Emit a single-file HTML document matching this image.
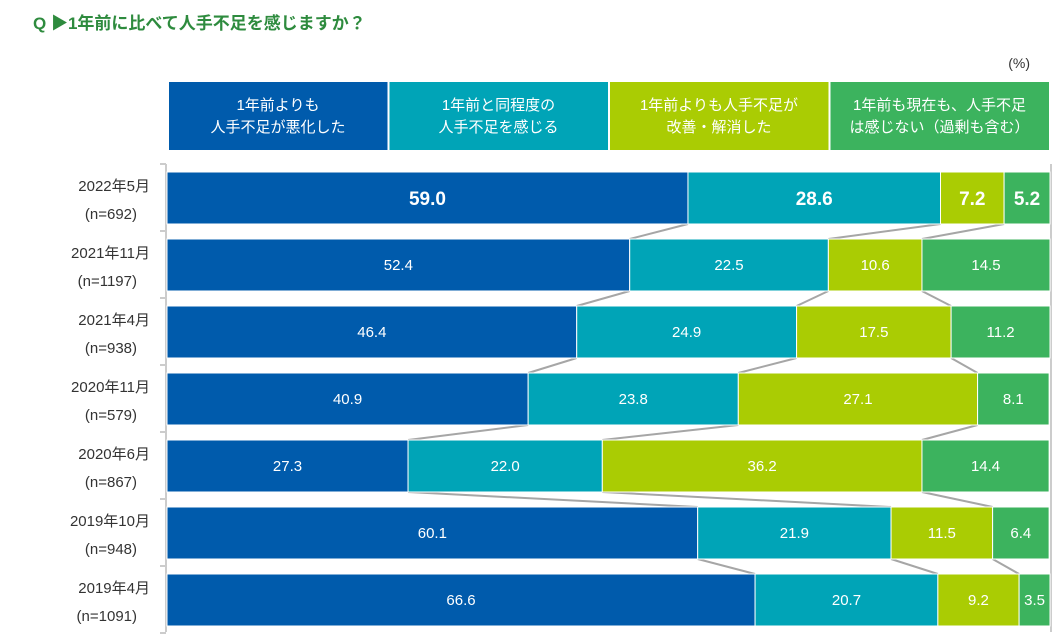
<!DOCTYPE html>
<html><head><meta charset="utf-8">
<style>
body{margin:0;width:1056px;height:635px;background:#fff;overflow:hidden;font-family:"Liberation Sans","Noto Sans CJK JP",sans-serif;}
svg{display:block}
</style></head><body>
<svg id="chart" width="1056" height="635">
<text x="33" y="29" font-size="17" font-weight="bold" fill="#2E8B3E" font-family="Liberation Sans, Noto Sans CJK JP, sans-serif">Q ▶1年前に比べて人手不足を感じますか？</text>
<text x="1030" y="68" font-size="14" fill="#333" text-anchor="end">(%)</text>
<g id="legend"></g>
<g id="axis"></g>
<g id="connectors"></g>
<g id="bars"></g>
</svg>
<script>
const categories=["2022年5月","2021年11月","2021年4月","2020年11月","2020年6月","2019年10月","2019年4月"];
const sampleSizes=["(n=692)","(n=1197)","(n=938)","(n=579)","(n=867)","(n=948)","(n=1091)"];
const worsened=[59.0,52.4,46.4,40.9,27.3,60.1,66.6];
const same=[28.6,22.5,24.9,23.8,22.0,21.9,20.7];
const improved=[7.2,10.6,17.5,27.1,36.2,11.5,9.2];
const none=[5.2,14.5,11.2,8.1,14.4,6.4,3.5];
const seriesLabels=[["1年前よりも","人手不足が悪化した"],["1年前と同程度の","人手不足を感じる"],["1年前よりも人手不足が","改善・解消した"],["1年前も現在も、人手不足","は感じない（過剰も含む）"]];
const series=[worsened,same,improved,none];
const colors=["#005BAC","#00A4B7","#AACC03","#3CB35E"];
const NS="http://www.w3.org/2000/svg";
const x0=167,plotW=883,rowTop=172,pitch=67,barH=52;
const xs=v=>x0+v/100*plotW;
const ys=i=>rowTop+i*pitch;
function mk(tag,attrs,parent){const e=document.createElementNS(NS,tag);for(const k in attrs)e.setAttribute(k,attrs[k]);parent.appendChild(e);return e;}
const lg=document.getElementById('legend');
seriesLabels.forEach((lab,j)=>{
 const bx=169+j*220.5;
 const r=mk('rect',{x:bx,y:82,width:218.5,height:68,fill:colors[j]},lg);
 
 
 lab.forEach((t,k)=>{const tx=mk('text',{x:bx+109,y:110+k*22,'font-size':15,fill:'#fff','text-anchor':'middle'},lg);tx.textContent=t;
 
 });
});
const ax=document.getElementById('axis');
mk('line',{x1:166,y1:164,x2:166,y2:632,stroke:'#ccc','stroke-width':2},ax);
for(let i=0;i<=categories.length;i++){mk('line',{x1:160,y1:164+i*67,x2:166,y2:164+i*67,stroke:'#ccc','stroke-width':2},ax);}
mk('line',{x1:1051,y1:164,x2:1051,y2:632,stroke:'#ccc','stroke-width':2},ax);
const cg=document.getElementById('connectors'),bg=document.getElementById('bars');
categories.forEach((c,i)=>{
 const y=ys(i);
 const t1=mk('text',{x:150,y:y+19,'font-size':15,fill:'#333','text-anchor':'end'},ax);t1.textContent=c;
 
 
 const t2=mk('text',{x:137,y:y+47,'font-size':15,fill:'#333','text-anchor':'end'},ax);t2.textContent=sampleSizes[i];
 
 
 let cum=0;
 series.forEach((s,j)=>{
  const v=s[i];const xa=xs(cum),xb=xs(cum+v);
  const r=mk('rect',{x:xa,y:y,width:xb-xa,height:barH,fill:colors[j],stroke:'#fff','stroke-width':1},bg);
  
  
  const bold=i===0;
  const t=mk('text',{x:(xa+xb)/2,y:y+barH/2+(bold?7:5),'font-size':bold?19:15,'font-weight':bold?'bold':'normal',fill:'#fff','text-anchor':'middle'},bg);
  t.textContent=v.toFixed(1);
  
  
  cum+=v;
 });
 if(i<categories.length-1){
  let c1=0,c2=0;
  for(let j=0;j<3;j++){c1+=series[j][i];c2+=series[j][i+1];
   const l=mk('line',{x1:xs(c1),y1:y+barH,x2:xs(c2),y2:ys(i+1),stroke:'#a6a6a6','stroke-width':2},cg);
   
   }
 }
});
</script>
</body></html>
